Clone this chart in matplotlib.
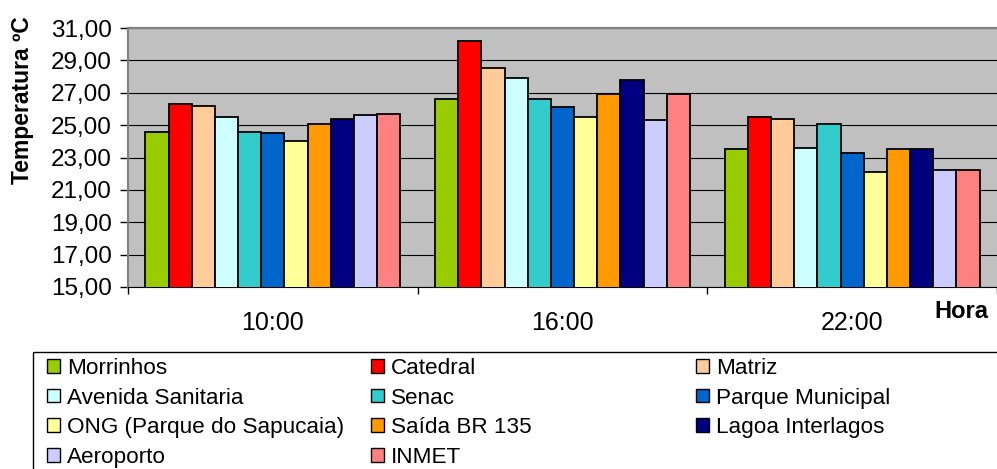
import numpy as np
import matplotlib
matplotlib.use('Agg')
import matplotlib.pyplot as plt
from matplotlib.patches import Patch, Rectangle
from matplotlib.ticker import FuncFormatter, FixedLocator

plt.rcParams['font.family'] = ['Liberation Sans', 'DejaVu Sans']

hours = ['10:00', '16:00', '22:00']

stations = ['Morrinhos', 'Catedral', 'Matriz', 'Avenida Sanitaria', 'Senac',
            'Parque Municipal', 'ONG (Parque do Sapucaia)', 'Saída BR 135',
            'Lagoa Interlagos', 'Aeroporto', 'INMET']

# temperatures per station at each hour
temps1000 = [24.6, 26.3, 26.2, 25.5, 24.6, 24.5, 24.0, 25.1, 25.4, 25.6, 25.7]
temps1600 = [26.6, 30.2, 28.5, 27.9, 26.6, 26.1, 25.5, 26.9, 27.8, 25.3, 26.9]
temps2200 = [23.5, 25.5, 25.4, 23.6, 25.1, 23.3, 22.1, 23.5, 23.5, 22.2, 22.2]

colors = ['#99CC00', '#FF0000', '#FFCC99', '#CCFFFF', '#33CCCC', '#0066CC',
          '#FFFF99', '#FF9900', '#000080', '#CCCCFF', '#FF8080']

W = 997
H = 469


def px(x, y):
    return x / W, 1 - y / H


fig = plt.figure(figsize=(W / 100, H / 100), dpi=100)
ax = fig.add_axes([128 / W, 1 - 287 / H, 869 / W, 259 / H])
ax.set_facecolor('#C0C0C0')

xpos = np.arange(len(hours))
barWidth = 0.08
for i, station in enumerate(stations):
    vals = [temps1000[i], temps1600[i], temps2200[i]]
    ax.bar(xpos + (i - 5) * barWidth, vals, barWidth, color=colors[i],
           edgecolor='black', linewidth=1.3, label=station, zorder=3)

ax.set_ylim(15, 31)
ax.set_xlim(-0.5, 2.5)
ax.set_yticks(np.arange(15, 32, 2))
ax.yaxis.set_major_formatter(FuncFormatter(lambda v, p: f'{v:.2f}'.replace('.', ',')))
ax.yaxis.grid(True, color='black', linewidth=0.8, zorder=1)
ax.set_axisbelow(True)

# ticks between categories, labels centred under each group
ax.xaxis.set_major_locator(FixedLocator([-0.5, 0.5, 1.5, 2.5]))
ax.set_xticklabels([])
ax.set_xticks(xpos, minor=True)
ax.set_xticklabels(hours, minor=True)
ax.tick_params(axis='x', which='major', direction='out', length=5, width=1)
ax.tick_params(axis='x', which='minor', length=0, pad=17, labelsize=18)
ax.tick_params(axis='y', direction='out', length=5.5, width=1, pad=6, labelsize=17.5)

ax.spines['top'].set_color('#808080')
ax.spines['top'].set_linewidth(1.6)
ax.spines['left'].set_color('#808080')
ax.spines['left'].set_linewidth(1.5)
ax.spines['bottom'].set_color('black')
ax.spines['right'].set_visible(False)

fig.text(*px(23, 100), 'Temperatura ºC', rotation=90, ha='center', va='center',
         fontsize=16.5, fontweight='bold')
fig.text(*px(961, 311), 'Hora', ha='center', va='center', fontsize=17,
         fontweight='bold')

# legend frame runs off the right and bottom edges
frameTop = 1 - 352 / H
fig.add_artist(Rectangle((33 / W, -0.5), 1.2, frameTop + 0.5,
                         transform=fig.transFigure, fill=False,
                         edgecolor='black', linewidth=1.0))

handles = [Patch(facecolor=c, edgecolor='black', linewidth=1.0) for c in colors]
colLeft = [47, 371, 696]
for c in range(3):
    idx = list(range(c, len(stations), 3))
    fig.legend([handles[k] for k in idx], [stations[k] for k in idx],
               loc='upper left', bbox_to_anchor=px(colLeft[c], 358),
               frameon=False, borderpad=0, borderaxespad=0,
               handlelength=0.56, handleheight=0.56, handletextpad=0.34,
               labelspacing=0.38, fontsize=16.2)

fig.savefig('out.png', dpi=100)
